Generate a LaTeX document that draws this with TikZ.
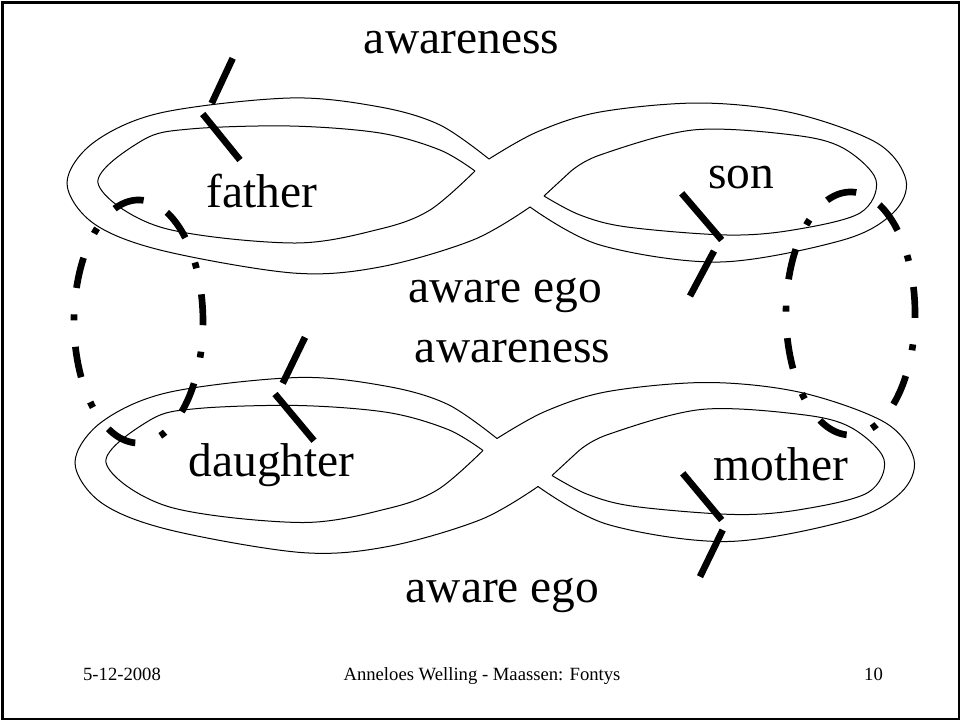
\documentclass[tikz,border=0pt]{standalone}
\usepackage{fontspec}
\setmainfont{Liberation Serif}
\newcommand\figeight{%
  % left lobe, outer edge (from top notch to bottom notch)
  \draw[ribbon] plot[smooth, tension=0.55] coordinates {(489,159) (440,125) (380,107) (290,98) (160,113) (93,143) (67,183) (93,223) (160,250) (293,273) (380,267) (473,240) (530,207)};
  % right lobe, outer edge
  \draw[ribbon] plot[smooth, tension=0.55] coordinates {(489,159) (537,132) (600,112) (700,103) (793,113) (877,143) (906,180) (893,213) (843,240) (720,262) (600,245) (530,207)};
  % left lobe, inner edge
  \draw[ribbon] plot[smooth, tension=0.55] coordinates {(475,171) (440,150) (380,133) (290,126) (190,129) (143,140) (98,183) (160,227) (293,243) (380,229) (430,210) (475,171)};
  % right lobe, inner edge
  \draw[ribbon] (544,196) -- (570,172);
  \draw[ribbon] plot[smooth, tension=0.55] coordinates {(570,172) (600,155) (693,130) (793,135) (843,148) (876,180) (860,213) (793,230) (727,235) (627,227) (580,215) (544,196)};
}
\begin{document}
\begin{tikzpicture}[x=0.75pt,y=-0.75pt,
  ribbon/.style={line width=0.75pt, line join=miter},
  tickmark/.style={line width=5pt},
  dashdotring/.style={line width=5pt, dash pattern=on 23.25pt off 19.9pt on 4.5pt off 19.85pt},
  big/.style={font=\fontsize{35.6}{40}\selectfont, inner sep=0pt, anchor=base},
  foot/.style={font=\fontsize{14}{16}\selectfont, inner sep=0pt, anchor=base}]
\useasboundingbox (0,0) rectangle (961,721);
\draw[line width=1.5pt] (2.5,2.5) rectangle (958.5,718.5);

% the two figure-eight ribbons
\begin{scope}
  \figeight
\end{scope}
\begin{scope}[shift={(8,279.5)}]
  \figeight
\end{scope}

% dash-dot rings
\draw[dashdotring] (138.5,321.5) ++(-63.5:64.5 and 121.5)
  arc[start angle=-63.5, delta angle=360, x radius=64.5, y radius=121.5];
\draw[dashdotring] (850.5,313.5) ++(-63:64.5 and 121.5)
  arc[start angle=-63, delta angle=360, x radius=64.5, y radius=121.5];

% tick marks
\draw[tickmark] (232.7,58.3) -- (211.7,103.3);
\draw[tickmark] (202.7,114) -- (240,160);
\draw[tickmark] (681.7,193.3) -- (721.7,240);
\draw[tickmark] (714,251) -- (690,296);
\draw[tickmark] (305,337.3) -- (282.7,383.3);
\draw[tickmark] (275,394) -- (314,440.7);
\draw[tickmark] (682.7,473.3) -- (721.7,520);
\draw[tickmark] (722.7,530) -- (700,576.7);

% labels
\node[big] (aw1) at (461.5,53) {awareness};
\node[big] (ae1) at (505,302) {aware ego};
\node[big] (aw2) at (512.5,362) {awareness};
\node[big] (ae2) at (502.5,602) {aware ego};
\node[big] (fa) at (262,207) {father};
\node[big] (so) at (741,188) {son};
\node[big] (da) at (271.5,476) {daughter};
\node[big] (mo) at (781,480) {mother};

% footer
\node[foot] (date) at (122,680) {5-12-2008};
\node[foot] (auth) at (482,680) {Anneloes Welling - Maassen: Fontys};
\node[foot] (num) at (873.5,680) {10};
\end{tikzpicture}
\end{document}
